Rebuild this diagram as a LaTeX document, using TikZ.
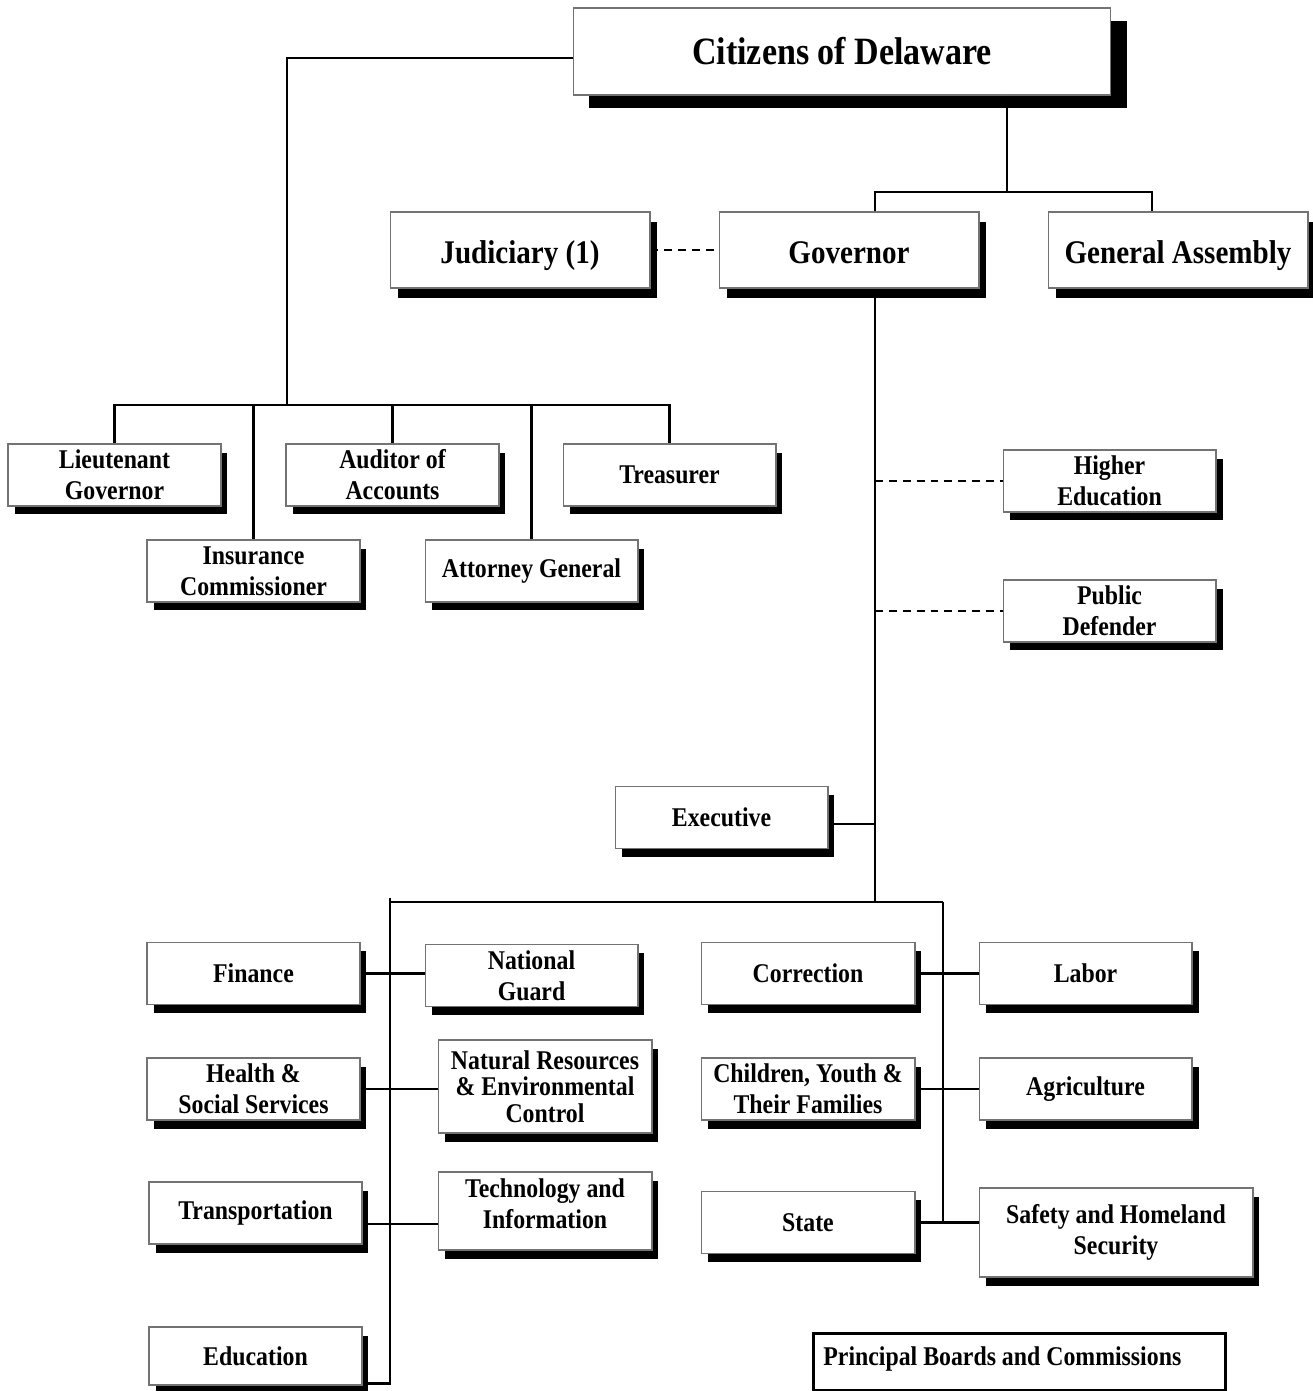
\documentclass[tikz,border=0pt]{standalone}
\usepackage{fontspec}
\newfontfamily\orgfont{Liberation Serif}[FakeStretch=0.88]
\usetikzlibrary{
  positioning,
  calc,
  shadows
  }
\tikzset{
  wire/.style={line width=1.3pt},
  link/.style={wire, dash pattern=on 4.5pt off 3.4pt},
  panel/.style={draw=black!55, line width=0.6pt, fill=white, align=center, inner sep=1pt},
  unit/.style={panel, font=\orgfont\bfseries\fontsize{15.4}{17.6}\selectfont,
    minimum width=4.26cm, minimum height=1.24cm,
    drop shadow={shadow xshift=0.13cm, shadow yshift=-0.17cm, fill=black, opacity=1}},
  head/.style={panel, font=\orgfont\bfseries\fontsize{18.8}{22}\selectfont,
    minimum width=5.2cm, minimum height=1.52cm, text height=0.6cm, text depth=0.06cm,
    drop shadow={shadow xshift=0.15cm, shadow yshift=-0.2cm, fill=black, opacity=1}},
  toptitle/.style={panel, font=\orgfont\bfseries\fontsize{22}{26}\selectfont,
    minimum width=10.76cm, minimum height=1.74cm,
    drop shadow={shadow xshift=0.32cm, shadow yshift=-0.27cm, fill=black, opacity=1}},
  legendbox/.style={draw, line width=1.6pt, anchor=north west,
    font=\orgfont\bfseries\fontsize{15.4}{17.6}\selectfont,
    inner xsep=0.2cm, minimum width=8.24cm, minimum height=1.14cm,
    text height=0.4cm, text depth=0.24cm},
}

\begin{document}
\begin{tikzpicture}[x=0.02cm, y=-0.02cm]
  \useasboundingbox (0,0) rectangle (1312,1391);
% =========================================================
% (A) citizens, branches
% =========================================================
  \node[toptitle] (cit) at (842,51.5) {Citizens of Delaware};
  \node[head] (jud) at (520,250) {Judiciary (1)};
  \node[head] (gov) at (849,250) {Governor};
  \node[head] (ga) at (1178,250) {General Assembly};
% =========================================================
% (B) elected officials
% =========================================================
  \node[unit] (ltg) at (114.5,475) {Lieutenant\\Governor};
  \node[unit] (aud) at (392.5,475) {Auditor of\\Accounts};
  \node[unit] (tre) at (669.5,475) {Treasurer};
  \node[unit] (ins) at (253.5,571) {Insurance\\Commissioner};
  \node[unit] (atg) at (531.5,571) {Attorney General};
% =========================================================
% (C) governor side
% =========================================================
  \node[unit] (hed) at (1109.5,481) {Higher\\Education};
  \node[unit] (pd) at (1109.5,611) {Public\\Defender};
  \node[unit] (exe) at (721.5,817.5) {Executive};
% =========================================================
% (D) departments
% =========================================================
  \node[unit] (fin) at (253.5,973.5) {Finance};
  \node[unit] (ng) at (531.5,975.5) {National\\Guard};
  \node[unit] (hss) at (253.5,1089) {Health \&\\Social Services};
  \node[unit, minimum width=4.28cm, minimum height=1.86cm,
    font=\orgfont\bfseries\fontsize{15.4}{15.2}\selectfont] (nrec) at (545,1086.5)
    {Natural Resources\\\& Environmental\\Control};
  \node[unit] (trn) at (255.5,1213) {Transportation};
  \node[unit, minimum width=4.28cm, minimum height=1.56cm, text depth=0.3cm] (tech) at (545,1211)
    {Technology and\\Information};
  \node[unit, minimum height=1.16cm] (edu) at (255.5,1356) {Education};
  \node[unit, minimum width=4.28cm] (cor) at (808,973.5) {Correction};
  \node[unit] (lab) at (1085.5,973.5) {Labor};
  \node[unit, minimum width=4.28cm] (cyf) at (808,1089) {Children, Youth \&\\Their Families};
  \node[unit] (agr) at (1085.5,1089) {Agriculture};
  \node[unit, minimum width=4.28cm] (sta) at (808,1222.5) {State};
  \node[unit, minimum width=5.48cm, minimum height=1.78cm] (saf) at (1116,1232.5)
    {Safety and Homeland\\Security};
  \node[legendbox] (pbc) at (812,1332)
    {\makebox[7.84cm][l]{Principal Boards and Commissions}};
% =========================================================
% (E) connectors
% =========================================================
  \coordinate (eobus) at (287,405);
  \coordinate (citdrop) at (1007,192);
  \coordinate (govbus) at (875,902);
  \coordinate (lbus) at (390,902);
  \coordinate (rbus) at (943,902);
  \coordinate (trnj) at ([yshift=-0.22cm]trn.east);

  \draw[wire] ([yshift=-0.13cm]cit.west) -| (eobus);
  \foreach \n in {ltg, ins, aud, atg, tre}
    \draw[wire] (eobus) -| (\n.north);
  \draw[wire] (cit.south -| citdrop) -- (citdrop);
  \draw[wire] (citdrop) -| ([xshift=0.52cm]gov.north);
  \draw[wire] (citdrop) -| ([xshift=-0.52cm]ga.north);
  \draw[link] (jud.east) -- (gov.west);

  \draw[wire] (gov.south -| govbus) -- (govbus);
  \draw[link] (govbus |- hed.west) -- (hed.west);
  \draw[link] (govbus |- pd.west) -- (pd.west);
  \draw[wire] ([yshift=-0.13cm]exe.east) -| (govbus);

  \draw[wire] ([yshift=0.08cm]lbus) -- (lbus) -- (rbus);
  \draw[wire] (lbus) |- ([yshift=0.04cm]edu.south east);
  \draw[wire] (rbus) |- (sta.east);
  \draw[wire] (fin.east) -- (fin.east -| ng.west);
  \draw[wire] (hss.east) -- (hss.east -| nrec.west);
  \draw[wire] (trnj) -- (trnj -| tech.west);
  \draw[wire] (cor.east) -- (cor.east -| lab.west);
  \draw[wire] (cyf.east) -- (cyf.east -| agr.west);
  \draw[wire] (sta.east) -- (sta.east -| saf.west);
\end{tikzpicture}
\end{document}
